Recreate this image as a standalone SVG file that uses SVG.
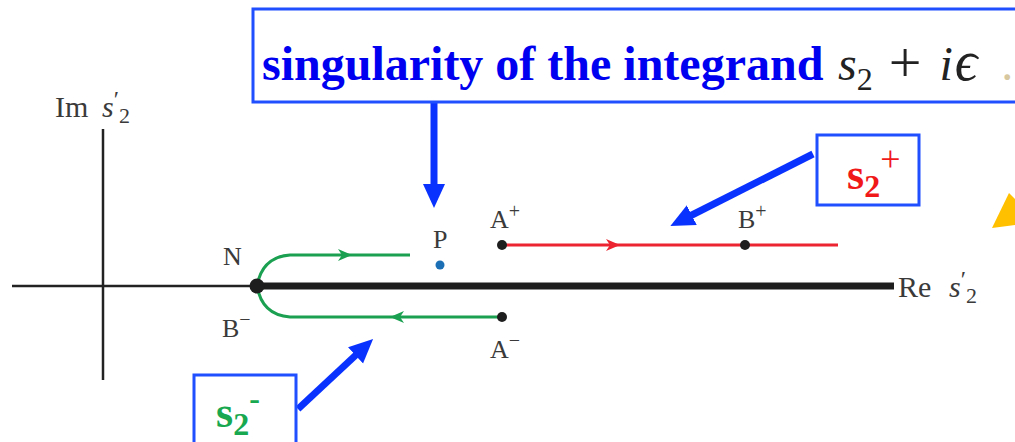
<svg xmlns="http://www.w3.org/2000/svg" width="1015" height="442" viewBox="0 0 1015 442">
<style>
text{font-family:"Liberation Serif","Times New Roman",serif}
.lbl{fill:#3a3a3a;font-size:26px}
.axl{fill:#3a3a3a;font-size:30px}
.it{font-style:italic}
.sup{font-size:20px}
.box{fill:#fff;stroke:#1f4fff;stroke-width:3}
.barrow{stroke:#0a32ff;stroke-width:7;fill:none}
.dot{fill:#1e1e1e}
.grn{stroke:#1aa050;stroke-width:3;fill:none}
.red{stroke:#ec2330;stroke-width:3;fill:none}
.title{font-weight:bold;font-size:48px;fill:#0000f0}
.math{font-size:48px;fill:#222}
.sbox{font-weight:bold;font-size:44px}
</style>
<defs>
<marker id="bhead" markerUnits="userSpaceOnUse" markerWidth="26" markerHeight="24" refX="2" refY="12" orient="auto">
<path d="M0,1 L24,12 L0,23 Z" fill="#0a32ff"/>
</marker>
</defs>
<rect width="1015" height="442" fill="#fff"/>
<g id="axes">
<line x1="103" y1="129" x2="103" y2="380" stroke="#222" stroke-width="2.5"/>
<line x1="12" y1="286" x2="257" y2="286" stroke="#222" stroke-width="2.5"/>
<line x1="257" y1="286" x2="894" y2="286" stroke="#1e1e1e" stroke-width="7"/>
<text class="axl" x="55" y="117">Im</text>
<text class="axl" x="102" y="117"><tspan class="it">s</tspan><tspan font-size="24" dy="-10">′</tspan><tspan font-size="22" dy="16">2</tspan></text>
<text class="axl" x="898" y="297">Re</text>
<text class="axl" x="949" y="297"><tspan class="it">s</tspan><tspan font-size="24" dy="-10">′</tspan><tspan font-size="22" dy="16">2</tspan></text>
</g>
<g id="connectors">
<path class="grn" d="M410,255 L290,255 Q262,257 257,286 Q262,315 290,317 L502,317"/>
<path d="M338,249 L352,255 L338,261 L342,255 Z" fill="#1aa050"/>
<path d="M404,311 L390,317 L404,323 L400,317 Z" fill="#1aa050"/>
<line class="red" x1="502" y1="245" x2="838" y2="245"/>
<path d="M606,239 L620,245 L606,251 L610,245 Z" fill="#ec2330"/>
<line class="barrow" x1="434" y1="102" x2="434" y2="186" marker-end="url(#bhead)"/>
<line class="barrow" x1="813" y1="154" x2="690" y2="216" marker-end="url(#bhead)"/>
<line class="barrow" x1="298" y1="409" x2="357" y2="354" marker-end="url(#bhead)"/>
</g>
<g id="node-N">
<circle class="dot" cx="257" cy="286" r="7.5"/>
<text class="lbl" x="223" y="265">N</text>
</g>
<g id="node-Bminus">
<text class="lbl" x="222" y="337">B<tspan class="sup" dy="-11">−</tspan></text>
</g>
<g id="node-P">
<circle cx="440" cy="265" r="4.5" fill="#1a6fb5"/>
<text class="lbl" x="433" y="248">P</text>
</g>
<g id="node-Aplus">
<circle class="dot" cx="502" cy="245" r="5"/>
<text class="lbl" x="490" y="228">A<tspan class="sup" dy="-10">+</tspan></text>
</g>
<g id="node-Aminus">
<circle class="dot" cx="502" cy="317" r="5"/>
<text class="lbl" x="490" y="358">A<tspan class="sup" dy="-11">−</tspan></text>
</g>
<g id="node-Bplus">
<circle class="dot" cx="745" cy="245" r="5"/>
<text class="lbl" x="738" y="228">B<tspan class="sup" dy="-10">+</tspan></text>
</g>
<g id="node-singularity">
<rect class="box" x="253" y="9" width="780" height="93"/>
<text class="title" x="262" y="80">singularity of the integrand</text>
<text class="math" x="838" y="80"><tspan class="it">s</tspan><tspan font-size="32" dy="10">2</tspan><tspan font-size="58" dy="-8" dx="16">+</tspan><tspan class="it" dy="-2" dx="18">i</tspan><tspan class="it" font-size="56" dx="2">ϵ</tspan><tspan fill="#d8c8a0" dx="24">.</tspan></text>
</g>
<g id="node-s2plus">
<rect class="box" x="817" y="135" width="102" height="70"/>
<text class="sbox" x="847" y="189" fill="#f01818">s<tspan font-size="32" dy="8">2</tspan><tspan font-weight="normal" font-size="36" dy="-26">+</tspan></text>
</g>
<g id="node-s2minus">
<rect class="box" x="194" y="375" width="102" height="80"/>
<text class="sbox" x="216" y="427" fill="#18a850">s<tspan font-size="32" dy="8">2</tspan><tspan font-size="32" dy="-26">-</tspan></text>
</g>
<polygon points="992,228 1009,193 1015,199 1015,225" fill="#ffc000"/>
</svg>
